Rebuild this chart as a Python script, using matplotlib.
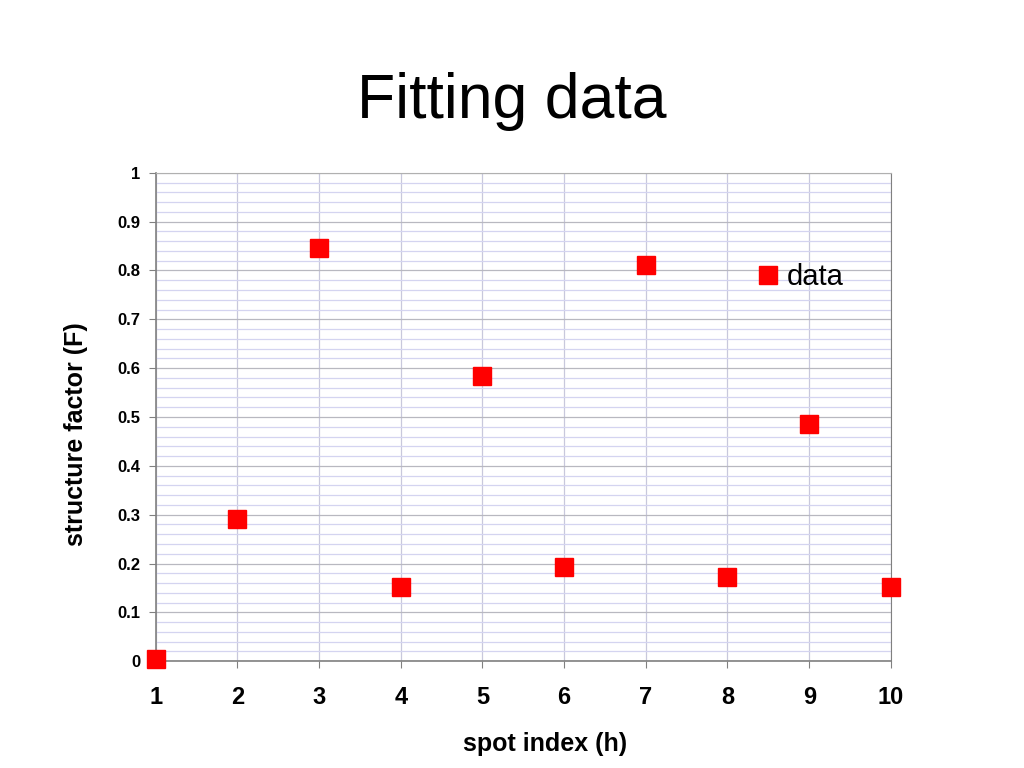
import matplotlib
matplotlib.use('Agg')
import matplotlib.pyplot as plt
from matplotlib.ticker import MultipleLocator

spot_index = [1, 2, 3, 4, 5, 6, 7, 8, 9, 10]
structure_factor = [0.005, 0.291, 0.846, 0.152, 0.584, 0.193, 0.811, 0.172, 0.486, 0.152]
y_tick_labels = ['0', '0.1', '0.2', '0.3', '0.4', '0.5', '0.6', '0.7', '0.8', '0.9', '1']

plt.rcParams['font.family'] = ['Liberation Sans', 'DejaVu Sans']

fig = plt.figure(figsize=(10.24, 7.68), dpi=100)
ax = fig.add_axes([0.152, 0.139, 0.718, 0.636])

ax.plot(spot_index, structure_factor, linestyle='None', marker='s', markersize=13,
        color='#ff0000', markeredgecolor='#ff0000', label='data', clip_on=False, zorder=5)

ax.set_xlim(1, 10)
ax.set_ylim(0, 1)
ax.xaxis.set_major_locator(MultipleLocator(1))
ax.yaxis.set_minor_locator(MultipleLocator(0.02))
ax.set_yticks([i / 10 for i in range(11)])
ax.set_yticklabels(y_tick_labels)

ax.grid(which='major', axis='y', color='#b8b8c0', linewidth=0.9)
ax.grid(which='minor', axis='y', color='#d4d4f0', linewidth=0.9)
ax.grid(which='major', axis='x', color='#c8c8dc', linewidth=0.9)
ax.set_axisbelow(True)

for side in ['left', 'bottom']:
    ax.spines[side].set_color('#808080')
    ax.spines[side].set_linewidth(1.2)
ax.spines['top'].set_color('#b0b0b0')
ax.spines['right'].set_color('#808080')

ax.tick_params(axis='y', which='major', direction='out', length=5, color='#808080',
               labelsize=12, pad=6)
ax.tick_params(axis='y', which='minor', length=0)
ax.tick_params(axis='x', direction='out', length=5, color='#808080', labelsize=17, pad=13)
for lbl in ax.get_xticklabels() + ax.get_yticklabels():
    lbl.set_fontweight('bold')

ax.set_xlabel('spot index (h)', fontsize=18, fontweight='bold')
ax.xaxis.set_label_coords(0.53, -0.145)
ax.set_ylabel('structure factor (F)', fontsize=18, fontweight='bold')
ax.yaxis.set_label_coords(-0.092, 0.465)

fig.text(0.5, 0.868, 'Fitting data', ha='center', va='center', fontsize=45)

ax.legend(loc='center', bbox_to_anchor=(0.878, 0.786), frameon=False, fontsize=21,
          handlelength=0.6, handletextpad=0.35, markerscale=1.0)

plt.savefig('out.png', dpi=100)
plt.close()
